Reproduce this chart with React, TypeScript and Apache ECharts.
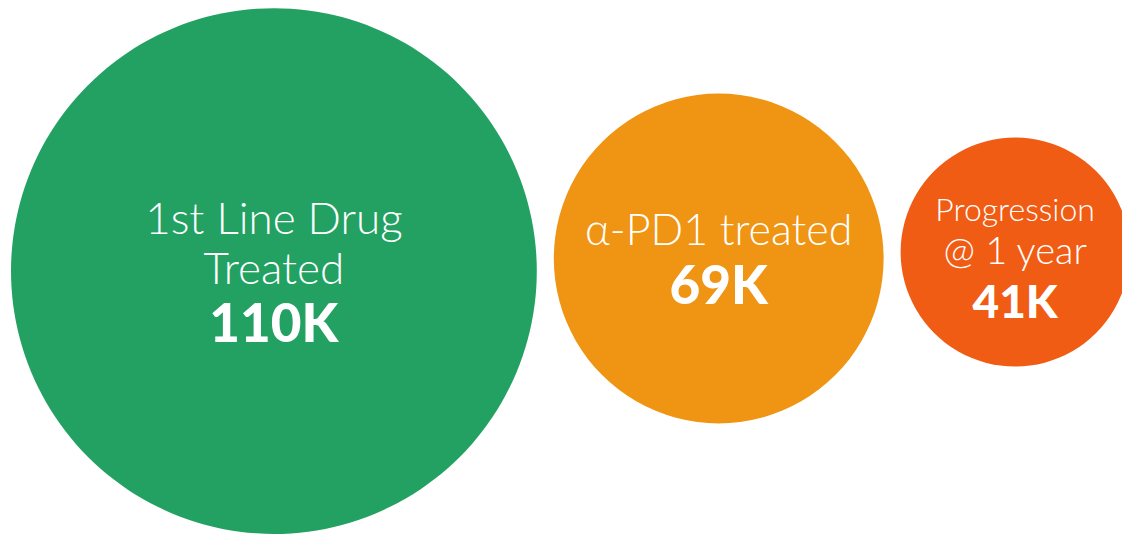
import React, { useEffect, useRef } from "react";
import * as echarts from "echarts";

// ---- data ----
const categories = ["1st Line Drug\nTreated", "α-PD1 treated", "Progression\n@ 1 year"];
const values = [110, 69, 41]; // thousands of patients
const valueLabels = ["110K", "69K", "41K"];

// ---- styling / layout (not data) ----
const colors = ["#22A162", "#F09413", "#F05C14"];
const W = 1122;
const H = 534;
const LEFT = 11;
const GAP = 17;
const PX_PER_UNIT = 4.78; // diameter per thousand
const MIN_D = 229; // minimum bubble diameter so its text fits
const diameter = (v: number) => Math.max(v * PX_PER_UNIT, MIN_D);
const centerY = (r: number) => 237.4 + 0.128 * r;

// per-bubble text styles
const textStyles = [
  { sizes: [44, 44], lh: [50, 50], vSize: 53, vLh: 59, pad: [0, 0, 0, 0] },
  { sizes: [43], lh: [55.5], vSize: 53, vLh: 55.5, pad: [0, 0, 5, 0] },
  { sizes: [32, 38], lh: [40.5, 40.5], vSize: 46, vLh: 62.5, pad: [15, 0, 0, 0] },
];

const FONT = "Lato, 'Open Sans', sans-serif";

export default function App() {
  const ref = useRef<HTMLDivElement>(null);
  useEffect(() => {
    if (!ref.current) return;
    const chart = echarts.init(ref.current, undefined, { renderer: "svg" });

    let cursor = LEFT;
    const data = values.map((v, i) => {
      const d = diameter(v);
      const r = d / 2;
      const cx = cursor + r;
      cursor += d + GAP;
      const st = textStyles[i];
      const lines = categories[i].split("\n");
      const rich: Record<string, any> = {};
      const parts = lines.map((ln, j) => {
        rich["l" + j] = {
          fontFamily: FONT,
          fontWeight: 300,
          fontSize: st.sizes[j],
          lineHeight: st.lh[j],
          color: "#ffffff",
        };
        return `{l${j}|${ln}}`;
      });
      rich.v = {
        fontFamily: FONT,
        fontWeight: 900,
        fontSize: st.vSize,
        lineHeight: st.vLh,
        color: "#ffffff",
      };
      parts.push(`{v|${valueLabels[i]}}`);
      return {
        name: categories[i],
        value: [cx, centerY(r), v],
        itemStyle: { color: colors[i], opacity: 1 },
        label: {
          show: true,
          position: "inside",
          align: "center",
          verticalAlign: "middle",
          padding: st.pad,
          formatter: parts.join("\n"),
          rich,
        },
      };
    });

    chart.setOption({
      animation: false,
      backgroundColor: "#ffffff",
      grid: { left: 0, right: 0, top: 0, bottom: 0 },
      xAxis: { type: "value", min: 0, max: W, show: false },
      yAxis: { type: "value", min: 0, max: H, inverse: true, show: false },
      series: [
        {
          type: "scatter",
          symbol: "circle",
          clip: false,
          silent: true,
          itemStyle: { opacity: 1 },
          symbolSize: (val: number[]) => diameter(val[2]),
          data,
          emphasis: { disabled: true },
        },
      ],
    });
    return () => chart.dispose();
  }, []);
  return (
    <div
      ref={ref}
      style={{ position: "fixed", left: 0, top: 0, width: W, height: H, background: "#fff" }}
    />
  );
}
